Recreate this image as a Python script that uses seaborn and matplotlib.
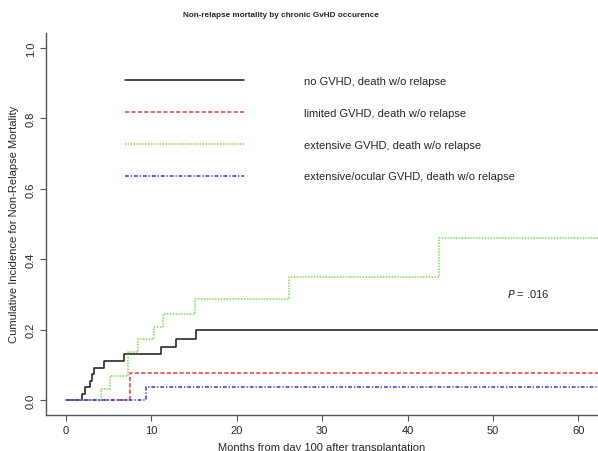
import matplotlib
matplotlib.use("Agg")
import matplotlib.pyplot as plt
import seaborn as sns
import pandas as pd

# step curves (months, cumulative incidence)
no_t = [0, 1.87, 2.26, 2.76, 3.04, 3.23, 4.4, 6.74, 11.1, 12.87, 15.2, 62.3]
no_y = [0, 0.018, 0.036, 0.054, 0.073, 0.092, 0.11, 0.13, 0.15, 0.173, 0.198, 0.198]

lim_t = [0, 7.52, 62.3]
lim_y = [0, 0.077, 0.077]

ext_t = [0, 4.13, 5.18, 7.3, 8.42, 10.25, 11.4, 15.1, 26.1, 43.7, 62.3]
ext_y = [0, 0.031, 0.069, 0.135, 0.172, 0.208, 0.244, 0.287, 0.349, 0.46, 0.46]

ocu_t = [0, 9.4, 62.3]
ocu_y = [0, 0.037, 0.037]

labels = ["no GVHD, death w/o relapse",
          "limited GVHD, death w/o relapse",
          "extensive GVHD, death w/o relapse",
          "extensive/ocular GVHD, death w/o relapse"]

sns.set_style("ticks")
plt.rcParams['font.family'] = ['Liberation Sans', 'DejaVu Sans']

fig = plt.figure(figsize=(5.98, 4.52), dpi=100)
ax = fig.add_axes([0.0765, 0.0803, 0.9235, 0.8445])

series = [(no_t, no_y, "#222222", "-"),
          (lim_t, lim_y, "#e8413f", (0, (2.6, 1.4))),
          (ext_t, ext_y, "#7ddc4c", (0, (0.9, 0.9))),
          (ocu_t, ocu_y, "#3838f0", (0, (2.4, 1.2, 0.8, 1.2)))]

for (t, y, col, ls), lab in zip(series, labels):
    df = pd.DataFrame({"t": t, "y": y})
    sns.lineplot(data=df, x="t", y="y", ax=ax, color=col, linestyle=ls,
                 linewidth=1.15, drawstyle="steps-post", estimator=None,
                 label=lab)

ax.set_xlim(-2.37, 62.3)
ax.set_ylim(-0.042, 1.043)
ax.set_xticks([0, 10, 20, 30, 40, 50, 60])
ax.set_yticks([0.0, 0.2, 0.4, 0.6, 0.8, 1.0])
ax.set_yticklabels(["0.0", "0.2", "0.4", "0.6", "0.8", "1.0"], rotation=90, va="center")
ax.tick_params(labelsize=8, length=4.5, width=0.8, color="#555555", pad=3)
ax.tick_params(axis="y", pad=2.5)
for s in ["left", "bottom"]:
    ax.spines[s].set_color("#555555")
    ax.spines[s].set_linewidth(1.0)
sns.despine(ax=ax)

ax.set_xlabel("Months from day 100 after transplantation", fontsize=8, labelpad=5)
ax.set_ylabel("Cumulative Incidence for Non-Relapse Mortality", fontsize=8, labelpad=5)
fig.text(0.47, 0.965, "Non-relapse mortality by chronic GvHD occurence", fontsize=5.9,
         fontweight="bold", ha="center", va="center")

leg = ax.legend(loc="upper left", bbox_to_anchor=(0.144, 0.887), frameon=False,
                fontsize=8, handlelength=10.7, handletextpad=5.4,
                labelspacing=1.96, borderpad=0, borderaxespad=0)

ax.text(51.6, 0.303, "$\\it{P}$ = .016", fontsize=8, va="center", ha="left")

fig.savefig("out.png", dpi=100)
